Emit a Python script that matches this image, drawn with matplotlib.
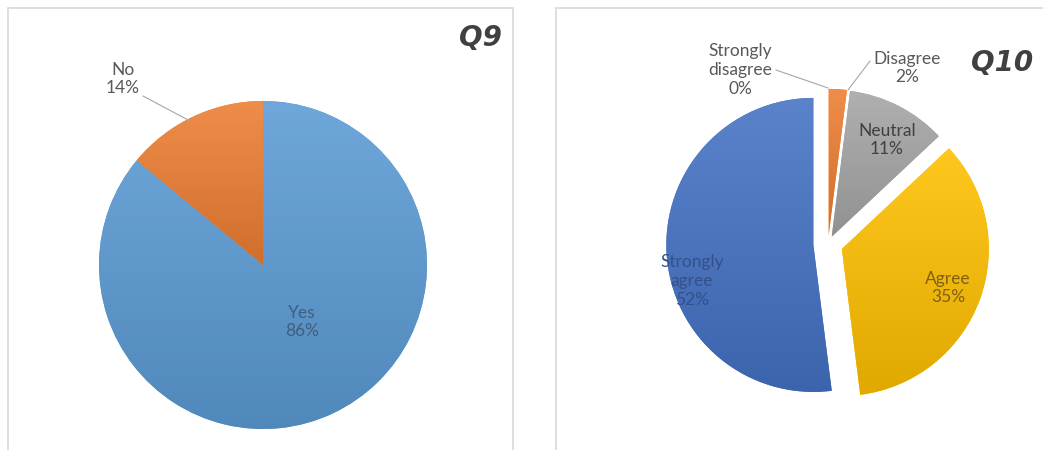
import numpy as np
import matplotlib.pyplot as plt
from matplotlib.patches import Rectangle
from matplotlib.colors import LinearSegmentedColormap, to_rgb

# Q9 data
q9_labels = ["Yes", "No"]
q9_values = [86, 14]
q9_colors = ["#5B9BD5", "#ED7D31"]

# Q10 data
q10_labels = ["Strongly\ndisagree", "Disagree", "Neutral", "Agree", "Strongly\nagree"]
q10_values = [0, 2, 11, 35, 52]
q10_colors = ["#5B9BD5", "#ED7D31", "#A5A5A5", "#FFC000", "#4472C4"]
q10_explode = [0.055, 0.055, 0.055, 0.1, 0.1]

W, H = 1043, 450
fig = plt.figure(figsize=(W / 100, H / 100), dpi=100)
fig.patch.set_facecolor("white")
ax = fig.add_axes([0, 0, 1, 1])


def Y(y):
    return H - y


def reset_axes():
    ax.set_xlim(0, W)
    ax.set_ylim(0, H)
    ax.set_aspect("equal")
    ax.axis("off")


def shade(c, f):
    c = np.array(to_rgb(c))
    if f > 0:
        return tuple(c + (1 - c) * f)
    return tuple(c * (1 + f))


def gradient_fill(wedges, colors):
    # lighter at the top, darker at the bottom, like the office chart style
    for w, c in zip(wedges, colors):
        cmap = LinearSegmentedColormap.from_list("g", [shade(c, -0.12), shade(c, 0.12)])
        bb = w.get_path().get_extents()
        if bb.width <= 0 or bb.height <= 0:
            continue
        grad = np.linspace(0, 1, 256).reshape(-1, 1)
        im = ax.imshow(grad, cmap=cmap, origin="lower", aspect="auto",
                       extent=[bb.x0, bb.x1, bb.y0, bb.y1], zorder=2)
        im.set_clip_path(w)


reset_axes()

# panel frames
for x0, x1 in [(8, 513), (556, 1060)]:
    ax.add_patch(Rectangle((x0, Y(460)), x1 - x0, 452, fill=False,
                           edgecolor="#D9D9D9", lw=1.2, zorder=0))

lab = dict(family="Lato", fontsize=12.5, color="#595959", ha="center", va="center",
           linespacing=1.2)

# ---- Q9 ----
r9 = 164
w9, _ = ax.pie(q9_values, colors=q9_colors, startangle=90, counterclock=False,
               center=(263, Y(265)), radius=r9, frame=True,
               wedgeprops=dict(linewidth=0))
gradient_fill(w9, q9_colors)
reset_axes()

ax.text(302, Y(322), "%s\n%d%%" % (q9_labels[0], q9_values[0]), zorder=5,
        **{**lab, "color": "#3F5F80"})
ax.text(123, Y(79), "%s\n%d%%" % (q9_labels[1], q9_values[1]), zorder=5, **lab)
ax.plot([143, 190], [Y(96), Y(121)], color="#A6A6A6", lw=0.8, zorder=5)
ax.text(502, Y(38), "Q9", ha="right", va="center", fontsize=20,
        fontweight="bold", fontstyle="italic", color="#404040",
        family="DejaVu Sans")

# ---- Q10 ----
r10 = 147
w10, _ = ax.pie(q10_values, colors=q10_colors, startangle=90, counterclock=False,
                center=(828, Y(244)), radius=r10,
                explode=[e * r10 for e in q10_explode], frame=True,
                wedgeprops=dict(linewidth=0))
gradient_fill(w10, q10_colors)
reset_axes()

ax.text(740, Y(70), "%s\n%d%%" % (q10_labels[0], q10_values[0]), zorder=5, **lab)
ax.plot([776, 828], [Y(70), Y(88)], color="#A6A6A6", lw=0.8, zorder=5)
ax.text(907, Y(68), "%s\n%d%%" % (q10_labels[1], q10_values[1]), zorder=5, **lab)
ax.plot([870, 848], [Y(61), Y(90)], color="#A6A6A6", lw=0.8, zorder=5)
ax.text(887, Y(140), "%s\n%d%%" % (q10_labels[2], q10_values[2]), zorder=5,
        **{**lab, "color": "#404040"})
ax.text(948, Y(288), "%s\n%d%%" % (q10_labels[3], q10_values[3]), zorder=5,
        **{**lab, "color": "#806010"})
ax.text(692, Y(281), "%s\n%d%%" % (q10_labels[4], q10_values[4]), zorder=5,
        **{**lab, "color": "#35508A"})
ax.text(1033, Y(63), "Q10", ha="right", va="center", fontsize=20,
        fontweight="bold", fontstyle="italic", color="#404040",
        family="DejaVu Sans")

fig.savefig("out.png", dpi=100, facecolor="white")
